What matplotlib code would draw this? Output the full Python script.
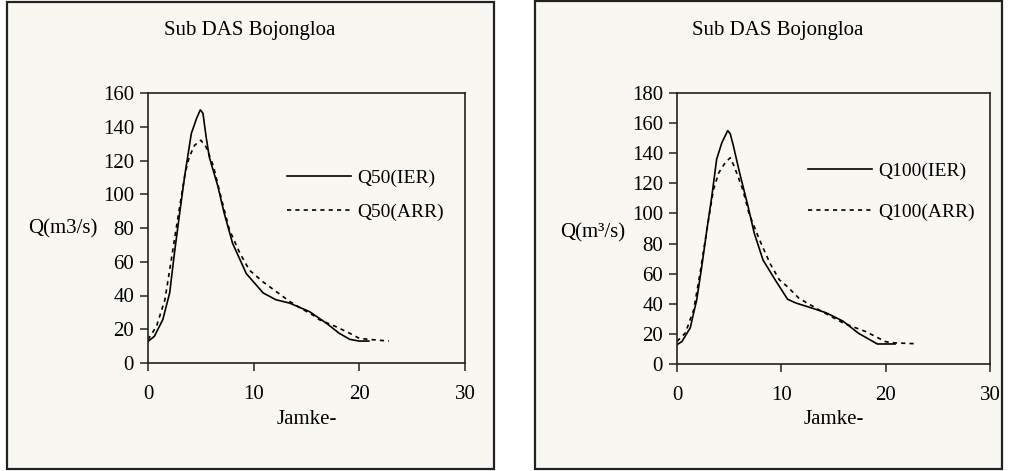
import matplotlib
matplotlib.use('Agg')
import matplotlib.pyplot as plt
from matplotlib.patches import Rectangle

plt.rcParams['font.family'] = ['Liberation Serif', 'DejaVu Serif']

# Hidrograf Q50
q50_ier_x = [0, 0.6, 1.4, 2.05, 2.5, 3.0, 3.5, 4.1, 4.6, 4.95, 5.2, 5.5, 5.8, 6.6, 7.2, 8.0,
             9.3, 10.9, 12.1, 13.4, 15.3, 16.9, 18.1, 19.1, 20.0, 20.9]
q50_ier_y = [12.8, 15.8, 25.7, 41.5, 65, 89, 112, 136, 145, 150, 148, 134, 122, 105, 89, 71,
             53, 41.5, 37.5, 35.5, 30.4, 23.5, 17.6, 14, 13, 13]
q50_arr_x = [0, 0.8, 1.6, 2.2, 2.8, 3.5, 3.9, 4.4, 5.0, 5.5, 6.2, 6.8, 7.7, 8.7, 9.6,
             10.9, 12.1, 13.4, 14.7, 15.6, 16.2, 17.8, 19.1, 20.0, 20.9, 22.8]
q50_arr_y = [13.8, 21.7, 37.5, 61, 85, 112, 122, 129, 132, 128, 116.5, 101, 79, 65, 55,
             48, 42.5, 36.5, 31.6, 28.4, 25.7, 21.5, 17.6, 14.6, 14, 13]

# Hidrograf Q100
q100_ier_x = [0, 0.48, 1.27, 1.9, 2.38, 2.86, 3.33, 3.8, 4.3, 4.86, 5.1, 5.4, 6.0, 6.8, 7.4,
              8.25, 9.4, 10.6, 11.4, 13.0, 14.3, 15.9, 17.4, 19.2, 20.0, 20.9]
q100_ier_y = [12.8, 15, 24, 43, 65, 89, 111, 136, 147, 155, 153, 145, 127, 105, 87,
              69, 56, 43, 40.5, 37, 34, 28.5, 20.4, 13.3, 13.3, 13.3]
q100_arr_x = [0, 0.8, 1.6, 2.2, 2.86, 3.5, 4.0, 4.6, 5.1, 5.5, 6.3, 6.9, 7.9, 8.9, 9.8,
              10.6, 11.7, 13.9, 16.0, 18.1, 20.0, 20.9, 22.8]
q100_arr_y = [15, 20.6, 36, 60, 89, 116, 127, 133.5, 137, 131, 116, 100, 82.6, 67, 56,
              51.3, 43.6, 34.8, 27, 21.5, 14.8, 14, 13.5]

title = 'Sub DAS Bojongloa'
xlabel = 'Jamke-'

W, H = 1009, 471
fig = plt.figure(figsize=(W / 100, H / 100), dpi=100)
fig.patch.set_facecolor('white')
bg = '#f8f7f2'


def box(x0, y0, x1, y1):
    return [x0 / W, 1 - y1 / H, (x1 - x0) / W, (y1 - y0) / H]


# panel latar
for x0, y0, x1, y1 in [(7, 2, 494, 469), (535, 1, 1002, 469)]:
    r = Rectangle((x0 / W, 1 - y1 / H), (x1 - x0) / W, (y1 - y0) / H,
                  transform=fig.transFigure, facecolor=bg, edgecolor='#222222',
                  linewidth=1.6, zorder=-5)
    fig.patches.append(r)


def panel(rect, xs1, ys1, xs2, ys2, ymax, labels, ylab, cx, ylab_xy, leg_xy, spacing):
    ax = fig.add_axes(box(*rect))
    ax.set_zorder(2)
    ax.set_facecolor('none')
    ax.plot(xs1, ys1, color='black', lw=1.2, label=labels[0])
    ax.plot(xs2, ys2, color='black', lw=1.2, linestyle=(0, (2.5, 2.5)), label=labels[1])
    ax.set_xlim(0, 30)
    ax.set_ylim(0, ymax)
    ax.set_xticks([0, 10, 20, 30])
    ax.set_yticks(range(0, ymax + 1, 20))
    for s in ax.spines.values():
        s.set_linewidth(1.2)
        s.set_color('#222222')
    ax.tick_params(direction='out', length=6, width=1.1, labelsize=15, colors='#222222',
                   labelcolor='black')
    ax.tick_params(axis='x', pad=10)
    ax.tick_params(axis='y', pad=4)
    fig.text(cx / W, 1 - 30 / H, title, ha='center', va='center', fontsize=15)
    fig.text(((rect[0] + rect[2]) / 2) / W, 1 - 420 / H, xlabel, ha='center',
             va='center', fontsize=15)
    fig.text(ylab_xy[0] / W, 1 - ylab_xy[1] / H, ylab, ha='center', va='center',
             fontsize=15)
    ax.legend(loc='upper left', bbox_to_anchor=(leg_xy[0] / W, 1 - leg_xy[1] / H),
              bbox_transform=fig.transFigure, frameon=False, fontsize=14,
              handlelength=3.3, handletextpad=0.3, labelspacing=spacing,
              borderpad=0, borderaxespad=0)
    return ax


panel((148, 93, 465, 363), q50_ier_x, q50_ier_y, q50_arr_x, q50_arr_y, 160,
      ['Q50(IER)', 'Q50(ARR)'], 'Q(m3/s)', 250, (63, 229), (287, 169), 0.85)
panel((677, 93, 990, 364), q100_ier_x, q100_ier_y, q100_arr_x, q100_arr_y, 180,
      ['Q100(IER)', 'Q100(ARR)'], 'Q(m\u00b3/s)', 778, (593, 233), (808, 162), 1.2)

fig.savefig('out.png', dpi=100, facecolor='white')
